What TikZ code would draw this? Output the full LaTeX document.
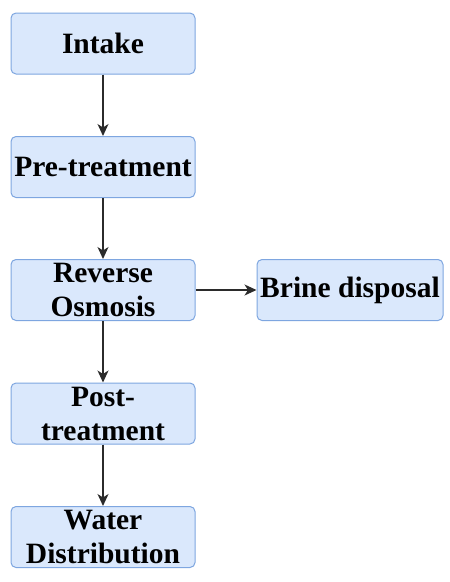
\documentclass[tikz,border=0pt]{standalone}
\usepackage{fontspec}
\setmainfont{Liberation Serif}
\usetikzlibrary{arrows.meta}
\definecolor{boxfill}{HTML}{DAE8FC}
\definecolor{boxline}{HTML}{7EA6E0}
\definecolor{arr}{HTML}{2B2B2B}
\begin{document}
\begin{tikzpicture}[x=1pt,y=1pt,
  stage/.style={draw=boxline, fill=boxfill, line width=1pt, rounded corners=5pt,
    minimum width=184pt, minimum height=61pt, inner sep=0pt, align=center,
    font=\fontsize{29.5}{34}\selectfont\bfseries},
  flow/.style={draw=arr, line width=1.3pt, -{Stealth[length=12pt,width=11pt,inset=3.5pt]}}]
\useasboundingbox (0,0) rectangle (450,-582);
\node[stage] (intake) at (103,-43.5) {Intake};
\node[stage] (pre) at (103,-167) {Pre-treatment};
\node[stage] (ro) at (103,-290) {Reverse\\Osmosis};
\node[stage, minimum width=186pt] (brine) at (350,-290) {Brine disposal};
\node[stage] (post) at (103,-413.5) {Post-\\treatment};
\node[stage] (water) at (103,-537) {Water\\Distribution};
\draw[flow] (intake) -- (pre);
\draw[flow] (pre) -- (ro);
\draw[flow] (ro) -- (brine);
\draw[flow] (ro) -- (post);
\draw[flow] (post) -- (water);
\end{tikzpicture}
\end{document}
